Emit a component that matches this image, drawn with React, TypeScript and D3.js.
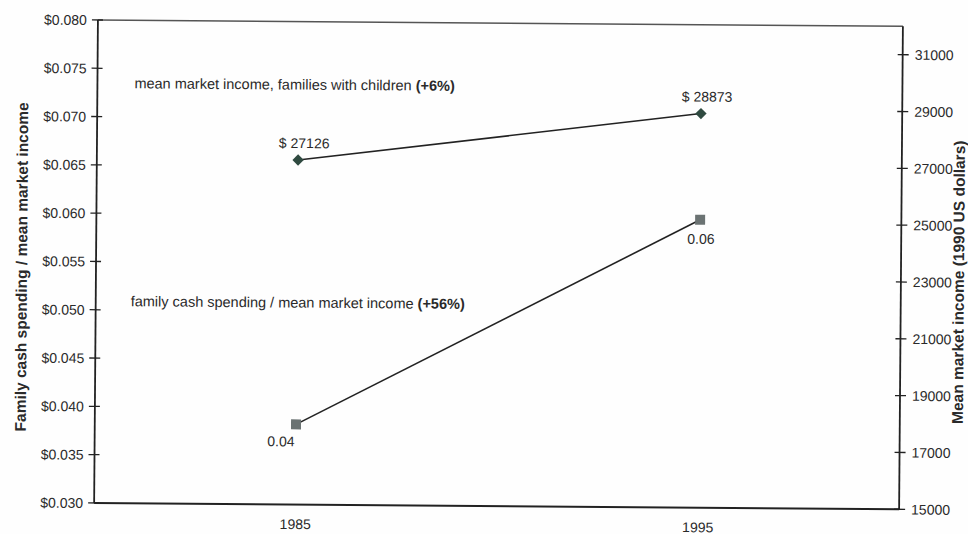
import React from 'react';
import * as d3 from 'd3';

// Survey years on the category axis
const years = ['1985', '1995'];

// Family cash spending as a share of mean market income (left axis)
const spendingRatio = [0.0383, 0.0598];
const spendingLabels = ['0.04', '0.06'];

// Mean market income of families with children, 1990 US dollars (right axis)
const meanIncome = [27126, 28873];
const incomeLabels = ['$ 27126', '$ 28873'];

// Axis ticks
const leftTicks = [0.03, 0.035, 0.04, 0.045, 0.05, 0.055, 0.06, 0.065, 0.07, 0.075, 0.08];
const rightTicks = [15000, 17000, 19000, 21000, 23000, 25000, 27000, 29000, 31000];

const W = 968;
const H = 534;
const plot = { left: 96, right: 901, top: 23, bottom: 506 };
const FONT = 'Liberation Sans, Arial, Helvetica, sans-serif';
const TEXT = '#2a2a2a';

export default function App() {
  const x = d3.scaleBand<string>().domain(years).range([plot.left, plot.right]).padding(0);
  const cx = (y: string) => (x(y) as number) + x.bandwidth() / 2;
  const yL = d3.scaleLinear().domain([0.03, 0.08]).range([plot.bottom, plot.top]);
  const yR = d3.scaleLinear().domain([15000, 32000]).range([plot.bottom, plot.top]);

  const spendLine = d3
    .line<number>()
    .x((_, i) => cx(years[i]))
    .y((d) => yL(d));
  const incomeLine = d3
    .line<number>()
    .x((_, i) => cx(years[i]))
    .y((d) => yR(d));

  const fmtL = (v: number) => '$' + d3.format('.3f')(v);

  const spendOffsets = [
    { dx: -15, dy: 22 },
    { dx: 1, dy: 24 },
  ];

  return (
    <svg
      width={W}
      height={H}
      viewBox={`0 0 ${W} ${H}`}
      style={{ position: 'absolute', left: 0, top: 0, background: '#fff' }}
      fontFamily={FONT}
    >
      <rect x={0} y={0} width={W} height={H} fill="#fefefe" />
      <g transform={`rotate(0.45 ${W / 2} ${H / 2})`}>
        {/* plot frame */}
        <line x1={plot.left} x2={plot.right} y1={plot.top} y2={plot.top} stroke="#555" strokeWidth={1.4} />
        <line x1={plot.left} x2={plot.right} y1={plot.bottom} y2={plot.bottom} stroke="#222" strokeWidth={2} />
        <line x1={plot.left} x2={plot.left} y1={plot.top} y2={plot.bottom} stroke="#222" strokeWidth={1.8} />
        <line x1={plot.right} x2={plot.right} y1={plot.top} y2={plot.bottom} stroke="#222" strokeWidth={1.8} />

        {/* left axis */}
        {leftTicks.map((t) => (
          <g key={'l' + t}>
            <line x1={plot.left - 6} x2={plot.left + 5} y1={yL(t)} y2={yL(t)} stroke="#222" strokeWidth={1.3} />
            <text x={plot.left - 11} y={yL(t)} dy="0.36em" textAnchor="end" fontSize={14} fill={TEXT}>
              {fmtL(t)}
            </text>
          </g>
        ))}

        {/* right axis */}
        {rightTicks.map((t) => (
          <g key={'r' + t}>
            <line x1={plot.right - 5} x2={plot.right + 6} y1={yR(t)} y2={yR(t)} stroke="#222" strokeWidth={1.3} />
            <text x={plot.right + 12} y={yR(t)} dy="0.36em" textAnchor="start" fontSize={14} fill={TEXT}>
              {t}
            </text>
          </g>
        ))}

        {/* category labels */}
        {years.map((y) => (
          <text key={y} x={cx(y)} y={plot.bottom + 24.5} textAnchor="middle" fontSize={14} fill={TEXT}>
            {y}
          </text>
        ))}

        {/* axis titles */}
        <text
          transform={`translate(27 ${(plot.top + plot.bottom) / 2 + 6}) rotate(-90)`}
          textAnchor="middle"
          fontSize={15.5}
          fontWeight="bold"
          fill={TEXT}
        >
          Family cash spending / mean market income
        </text>
        <text
          transform={`translate(964 ${(plot.top + plot.bottom) / 2 + 14}) rotate(-90)`}
          textAnchor="middle"
          fontSize={15.5}
          fontWeight="bold"
          fill={TEXT}
        >
          Mean market income (1990 US dollars)
        </text>

        {/* series annotations */}
        <text x={133} y={91} fontSize={14.5} fill={TEXT}>
          mean market income, families with children <tspan fontWeight="bold">(+6%)</tspan>
        </text>
        <text x={131} y={309} fontSize={14.5} fill={TEXT}>
          family cash spending / mean market income <tspan fontWeight="bold">(+56%)</tspan>
        </text>

        {/* income series */}
        <path d={incomeLine(meanIncome) as string} fill="none" stroke="#222" strokeWidth={1.6} />
        {meanIncome.map((v, i) => (
          <g key={'inc' + i}>
            <rect
              x={cx(years[i]) - 4}
              y={yR(v) - 4}
              width={8}
              height={8}
              fill="#2f4a40"
              transform={`rotate(45 ${cx(years[i])} ${yR(v)})`}
            />
            <text x={cx(years[i]) + 6} y={yR(v) - 12} textAnchor="middle" fontSize={14} fill={TEXT}>
              {incomeLabels[i]}
            </text>
          </g>
        ))}

        {/* spending ratio series */}
        <path d={spendLine(spendingRatio) as string} fill="none" stroke="#222" strokeWidth={1.6} />
        {spendingRatio.map((v, i) => (
          <g key={'sp' + i}>
            <rect x={cx(years[i]) - 5} y={yL(v) - 5} width={10} height={10} fill="#6b7373" />
            <text
              x={cx(years[i]) + spendOffsets[i].dx}
              y={yL(v) + spendOffsets[i].dy}
              textAnchor="middle"
              fontSize={14}
              fill={TEXT}
            >
              {spendingLabels[i]}
            </text>
          </g>
        ))}
      </g>
    </svg>
  );
}
